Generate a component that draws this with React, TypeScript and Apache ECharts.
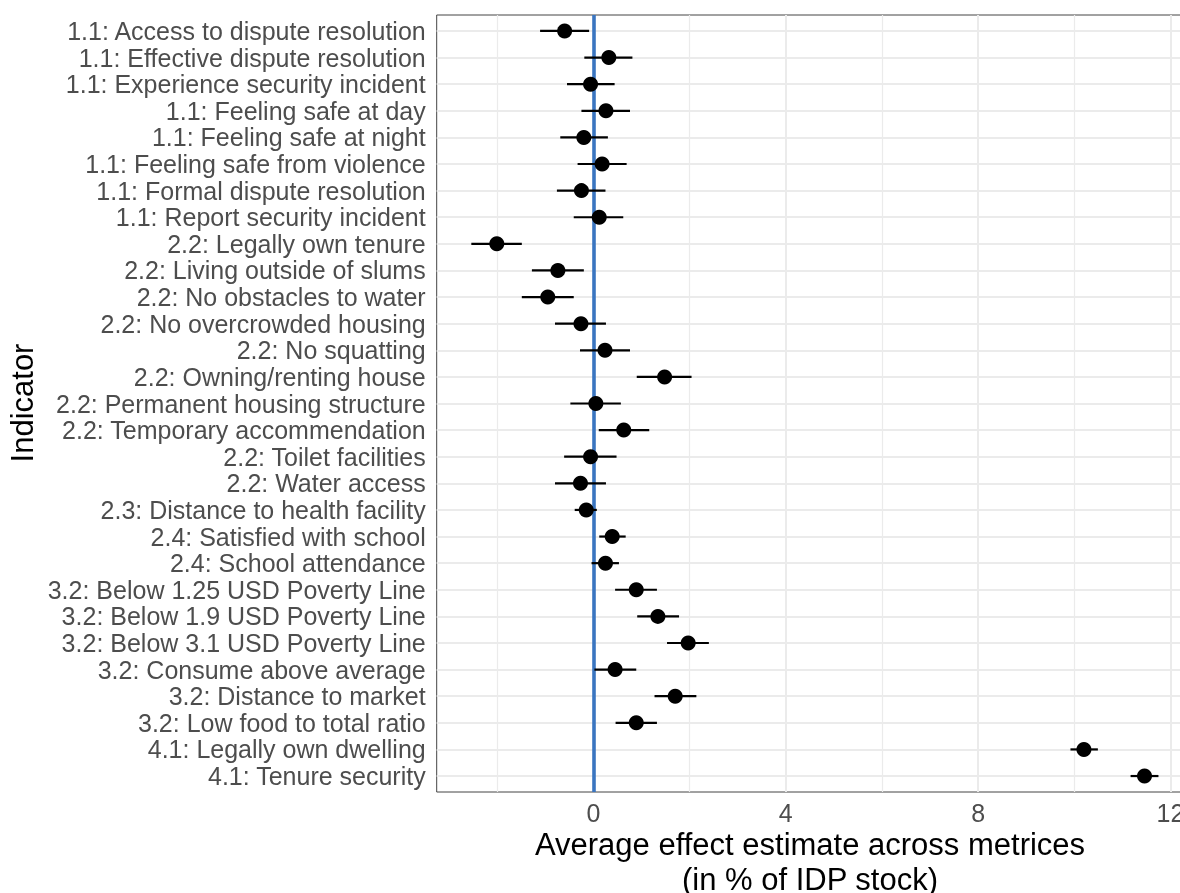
import React, { useEffect, useRef } from "react";
import * as echarts from "echarts";

// Indicator labels, top to bottom
const categories = [
  "1.1: Access to dispute resolution",
  "1.1: Effective dispute resolution",
  "1.1: Experience security incident",
  "1.1: Feeling safe at day",
  "1.1: Feeling safe at night",
  "1.1: Feeling safe from violence",
  "1.1: Formal dispute resolution",
  "1.1: Report security incident",
  "2.2: Legally own tenure",
  "2.2: Living outside of slums",
  "2.2: No obstacles to water",
  "2.2: No overcrowded housing",
  "2.2: No squatting",
  "2.2: Owning/renting house",
  "2.2: Permanent housing structure",
  "2.2: Temporary accommendation",
  "2.2: Toilet facilities",
  "2.2: Water access",
  "2.3: Distance to health facility",
  "2.4: Satisfied with school",
  "2.4: School attendance",
  "3.2: Below 1.25 USD Poverty Line",
  "3.2: Below 1.9 USD Poverty Line",
  "3.2: Below 3.1 USD Poverty Line",
  "3.2: Consume above average",
  "3.2: Distance to market",
  "3.2: Low food to total ratio",
  "4.1: Legally own dwelling",
  "4.1: Tenure security",
];

// Average effect estimates and their interval bounds (in % of IDP stock)
const estimates = [
  -0.6, 0.32, -0.06, 0.26, -0.2, 0.18, -0.25, 0.12, -2.01, -0.74, -0.95, -0.26,
  0.24, 1.48, 0.05, 0.63, -0.06, -0.27, -0.15, 0.39, 0.25, 0.89, 1.34, 1.97,
  0.45, 1.7, 0.89, 10.2, 11.46,
];
const lowers = [
  -1.11, -0.19, -0.55, -0.25, -0.69, -0.33, -0.76, -0.41, -2.54, -1.28, -1.49,
  -0.8, -0.28, 0.9, -0.48, 0.11, -0.61, -0.8, -0.39, 0.12, -0.04, 0.45, 0.91,
  1.53, 0.02, 1.27, 0.46, 9.92, 11.17,
];
const uppers = [
  -0.09, 0.81, 0.44, 0.76, 0.3, 0.69, 0.25, 0.62, -1.49, -0.2, -0.41, 0.26,
  0.76, 2.04, 0.57, 1.16, 0.48, 0.26, 0.07, 0.67, 0.53, 1.32, 1.78, 2.4, 0.89,
  2.14, 1.32, 10.49, 11.75,
];

// x-axis ticks and gridlines
const xTicks = [0, 4, 8, 12];
const xMinorGrid = [-2, 2, 6, 10];
const X_MIN = -3.26;
const X_MAX = 12.46;

const FONT = '"Liberation Sans", Arial, Helvetica, sans-serif';

export default function App() {
  const ref = useRef<HTMLDivElement>(null);

  useEffect(() => {
    if (!ref.current) return;
    const chart = echarts.init(ref.current, null, { renderer: "svg" });
    const rows = categories.map((_, i) => i);
    const points = estimates.map((v, i) => [v, i]);

    chart.setOption({
      animation: false,
      textStyle: { fontFamily: FONT },
      grid: {
        left: 436.7,
        right: 0.4,
        top: 15,
        bottom: 101,
        show: true,
        borderColor: "#444",
        borderWidth: 1,
        backgroundColor: "#fff",
      },
      xAxis: {
        type: "value",
        min: X_MIN,
        max: X_MAX,
        splitLine: { show: false },
        axisLine: { show: false },
        axisTick: {
          show: true,
          length: 5,
          customValues: xTicks,
          lineStyle: { color: "#333", width: 1 },
        },
        axisLabel: {
          customValues: xTicks,
          color: "#4d4d4d",
          fontSize: 25,
          fontFamily: FONT,
          margin: 8,
        },
      },
      yAxis: {
        type: "value",
        inverse: true,
        min: -0.6,
        max: 28.6,
        splitLine: { show: false },
        axisLine: { show: false },
        axisTick: {
          show: true,
          length: 5,
          customValues: rows,
          lineStyle: { color: "#333", width: 1 },
        },
        axisLabel: {
          customValues: rows,
          formatter: (v: number) => categories[Math.round(v)] ?? "",
          color: "#4d4d4d",
          fontSize: 25,
          fontFamily: FONT,
          margin: 11,
        },
      },
      series: [
        {
          // panel gridlines
          type: "scatter",
          data: points,
          symbolSize: 0,
          silent: true,
          z: 1,
          markLine: {
            silent: true,
            symbol: ["none", "none"],
            label: { show: false },
            z: 1,
            animation: false,
            data: [
              ...rows.map((i) => ({
                yAxis: i,
                lineStyle: { color: "#ebebeb", width: 2, type: "solid" },
              })),
              ...xTicks.map((v) => ({
                xAxis: v,
                lineStyle: { color: "#ebebeb", width: 2, type: "solid" },
              })),
              ...xMinorGrid.map((v) => ({
                xAxis: v,
                lineStyle: { color: "#ebebeb", width: 1.2, type: "solid" },
              })),
            ],
          },
        },
        {
          // zero reference line
          type: "scatter",
          data: points,
          symbolSize: 0,
          silent: true,
          z: 2,
          markLine: {
            silent: true,
            symbol: ["none", "none"],
            label: { show: false },
            z: 2,
            animation: false,
            data: [
              { xAxis: 0, lineStyle: { color: "#3a75c0", width: 3.6, type: "solid" } },
            ],
          },
        },
        {
          // interval bars
          type: "custom",
          z: 3,
          silent: true,
          data: lowers.map((lo, i) => [lo, uppers[i], i]),
          encode: { x: [0, 1], y: 2 },
          renderItem: (params: any, api: any) => {
            const a = api.coord([api.value(0), api.value(2)]);
            const b = api.coord([api.value(1), api.value(2)]);
            return {
              type: "line",
              shape: { x1: a[0], y1: a[1], x2: b[0], y2: b[1] },
              style: { stroke: "#000", lineWidth: 2.2 },
            };
          },
        },
        {
          // point estimates
          type: "scatter",
          z: 4,
          data: points,
          symbol: "circle",
          symbolSize: 15,
          itemStyle: { color: "#000", opacity: 1 },
        },
      ],
      graphic: [
        {
          type: "text",
          x: 810,
          y: 844.5,
          style: {
            text: "Average effect estimate across metrices",
            fontSize: 31,
            fontFamily: FONT,
            fill: "#000",
            align: "center",
            verticalAlign: "middle",
          },
        },
        {
          type: "text",
          x: 810,
          y: 879.5,
          style: {
            text: "(in % of IDP stock)",
            fontSize: 31,
            fontFamily: FONT,
            fill: "#000",
            align: "center",
            verticalAlign: "middle",
          },
        },
        {
          type: "text",
          x: 22.6,
          y: 403,
          rotation: Math.PI / 2,
          style: {
            text: "Indicator",
            fontSize: 31,
            fontFamily: FONT,
            fill: "#000",
            align: "center",
            verticalAlign: "middle",
          },
        },
      ],
    });

    return () => chart.dispose();
  }, []);

  return (
    <div
      style={{
        position: "fixed",
        left: 0,
        top: 0,
        width: 1180,
        height: 893,
        overflow: "hidden",
      }}
    >
      <div ref={ref} style={{ width: 1193, height: 893 }} />
    </div>
  );
}
